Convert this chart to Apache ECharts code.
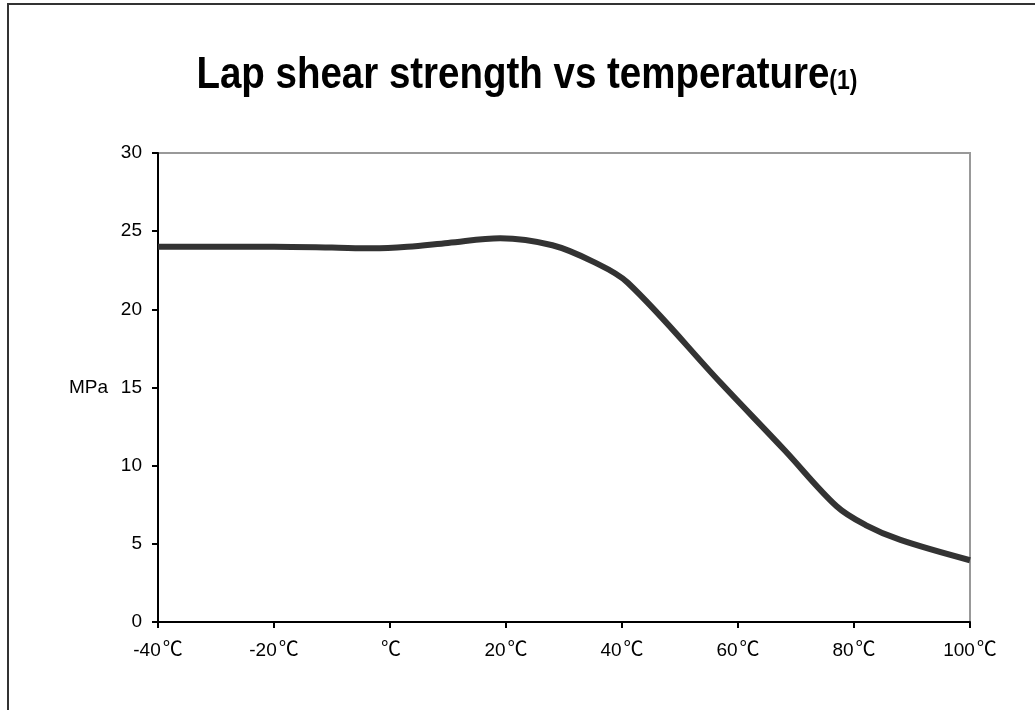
<!DOCTYPE html>
<html><head><meta charset="utf-8">
<script src="https://cdn.jsdelivr.net/npm/echarts@6/dist/echarts.min.js"></script>
<style>html,body{margin:0;padding:0;background:#fff}#c{width:1035px;height:710px}</style>
</head><body><div id="c"></div>
<script>
const titleText = 'Lap shear strength vs temperature';
const titleNote = '(1)';
const yName = 'MPa';
const tempC = [-40, -20, -10, -3, 3, 10, 19, 28, 35, 41, 57, 68, 77, 82, 88, 100];
const strengthMPa = [24.0, 24.0, 23.95, 23.9, 24.0, 24.25, 24.55, 24.1, 23.05, 21.7, 15.3, 11.0, 7.4, 6.2, 5.25, 3.95];
const xTicks = [-40, -20, 0, 20, 40, 60, 80, 100];

const chart = echarts.init(document.getElementById('c'));
const font = 'Liberation Sans, Arial, Helvetica, sans-serif';
const cjk = 'Noto Sans CJK SC, sans-serif';
chart.setOption({
  animation: false,
  backgroundColor: '#fff',
  graphic: [{
    type: 'rect', shape: {x: 8, y: 4, width: 1200, height: 900},
    style: {fill: null, stroke: '#333', lineWidth: 2}, silent: true, z: 100
  }, {
    type: 'text', x: 527, y: 53, scaleX: 0.855, scaleY: 1,
    style: {
      text: '{a|' + titleText + '}{b|' + titleNote + '}',
      align: 'center', verticalAlign: 'top',
      rich: {
        a: {fontFamily: font, fontWeight: 'bold', fontSize: 45, fill: '#000'},
        b: {fontFamily: font, fontWeight: 'bold', fontSize: 27, fill: '#000', verticalAlign: 'bottom', padding: [0,0,3,0]}
      }
    }
  }],
  grid: {left: 158, top: 153, right: 65, bottom: 88, show: true, borderColor: '#999', borderWidth: 2},
  xAxis: {
    type: 'value', min: -40, max: 100, interval: 20,
    axisLine: {onZero: false, lineStyle: {color: '#000', width: 2}},
    axisTick: {show: true, length: 6, lineStyle: {color: '#000', width: 2}},
    splitLine: {show: false},
    axisLabel: {
      margin: 17, color: '#000', fontSize: 20, fontFamily: font,
      formatter: v => xTicks.indexOf(v) >= 0 ? (v === 0 ? '{u|℃}' : '{n|' + v + '}{u|℃}') : '',
      rich: {
        n: {fontSize: 19, fontFamily: font, color: '#000', lineHeight: 24},
        u: {fontSize: 20, fontFamily: cjk, color: '#000', lineHeight: 24, padding: [0, 0, 5, 2]}
      }
    }
  },
  yAxis: {
    type: 'value', min: 0, max: 30, interval: 5,
    name: yName, nameLocation: 'middle', nameRotate: 0, nameGap: 50,
    nameTextStyle: {color: '#000', fontSize: 19, fontFamily: font, align: 'right'},
    axisLine: {show: true, onZero: false, lineStyle: {color: '#000', width: 2}},
    axisTick: {show: true, length: 6, lineStyle: {color: '#000', width: 2}},
    splitLine: {show: false},
    axisLabel: {margin: 16, color: '#000', fontSize: 19, fontFamily: font}
  },
  series: [{
    type: 'line', smooth: 0.35, symbol: 'none',
    data: tempC.map((t, i) => [t, strengthMPa[i]]),
    lineStyle: {color: '#333', width: 6}
  }]
});
</script></body></html>
